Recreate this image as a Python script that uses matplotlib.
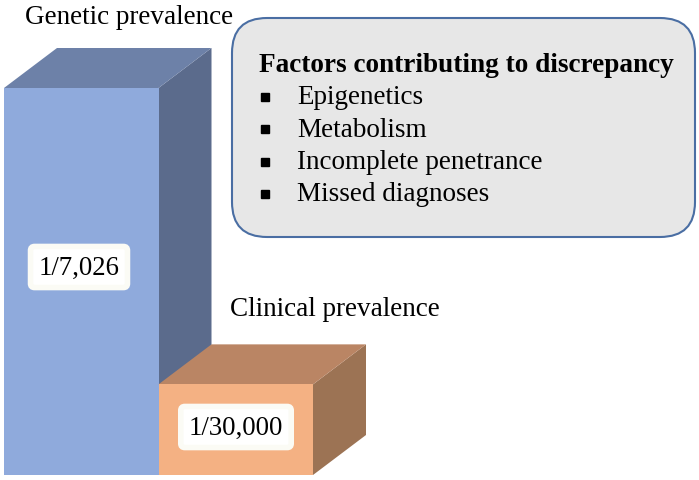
import matplotlib.pyplot as plt
from matplotlib.patches import Polygon, FancyBboxPatch

plt.rcParams['font.family'] = ['Liberation Serif', 'DejaVu Serif']

categories = ['Genetic prevalence', 'Clinical prevalence']
prevalence = [1 / 7026, 1 / 30000]
value_labels = ['1/7,026', '1/30,000']
factors_title = 'Factors contributing to discrepancy'
factors = ['Epigenetics', 'Metabolism', 'Incomplete penetrance', 'Missed diagnoses']

front = ['#8faadc', '#f4b183']
top = ['#6d81a8', '#ba8564']
side = ['#5b6b8c', '#9c7354']

fig = plt.figure(figsize=(6.99, 4.81), dpi=100)
ax = fig.add_axes([0, 0, 1, 1])
# x in pixels, y in cases per 100,000
px_per_unit = 387 / (1e5 / 7026)
ax.set_xlim(0, 699)
ax.set_ylim(-5 / px_per_unit, 476 / px_per_unit)
ax.axis('off')

width = 154.5
x0 = [4, 158.5]
dx = 53
dy = 40 / px_per_unit

# draw back-to-front: blue first, orange covers its lower side
for i in range(2):
    h = prevalence[i] * 1e5
    l, r = x0[i], x0[i] + width
    ax.add_patch(Polygon([(r, 0), (r + dx, dy), (r + dx, h + dy), (r, h)],
                         closed=True, facecolor=side[i], edgecolor='none'))
    ax.add_patch(Polygon([(l, h), (l + dx, h + dy), (r + dx, h + dy), (r, h)],
                         closed=True, facecolor=top[i], edgecolor='none'))
    ax.add_patch(Polygon([(l, 0), (r, 0), (r, h), (l, h)],
                         closed=True, facecolor=front[i], edgecolor='none'))

def ypx(p):
    return (476 - p) / px_per_unit

# value labels in white glowing boxes
label_pos = [(79, 268), (236, 428)]
for (x, y), t in zip(label_pos, value_labels):
    ax.text(x, ypx(y), t, fontsize=19.3, ha='center', va='center', color='black',
            bbox=dict(boxstyle='round,pad=0.3,rounding_size=0.15', facecolor='white',
                      edgecolor='#fbfbf5', linewidth=4))

# category titles
ax.text(25, ypx(18), categories[0], fontsize=19.5, ha='left', va='center')
ax.text(230, ypx(310), categories[1], fontsize=19.5, ha='left', va='center')

# factors box
box = FancyBboxPatch((232, ypx(238)), 695 - 232, (238 - 19) / px_per_unit,
                     boxstyle='round,pad=0,rounding_size=35',
                     mutation_aspect=1 / px_per_unit,
                     facecolor='#e7e7e7', edgecolor='#4a6ea3', linewidth=1.5)
ax.add_patch(box)
ax.text(259, ypx(65), factors_title, fontsize=19.6, fontweight='bold', ha='left', va='center')
for k, f in enumerate(factors):
    y = 98 + k * 32.3
    ax.plot([265], [ypx(y)], marker='s', markersize=5.5, color='black')
    ax.text(297, ypx(y), f, fontsize=19.5, ha='left', va='center')

fig.savefig('out.png', dpi=100)
